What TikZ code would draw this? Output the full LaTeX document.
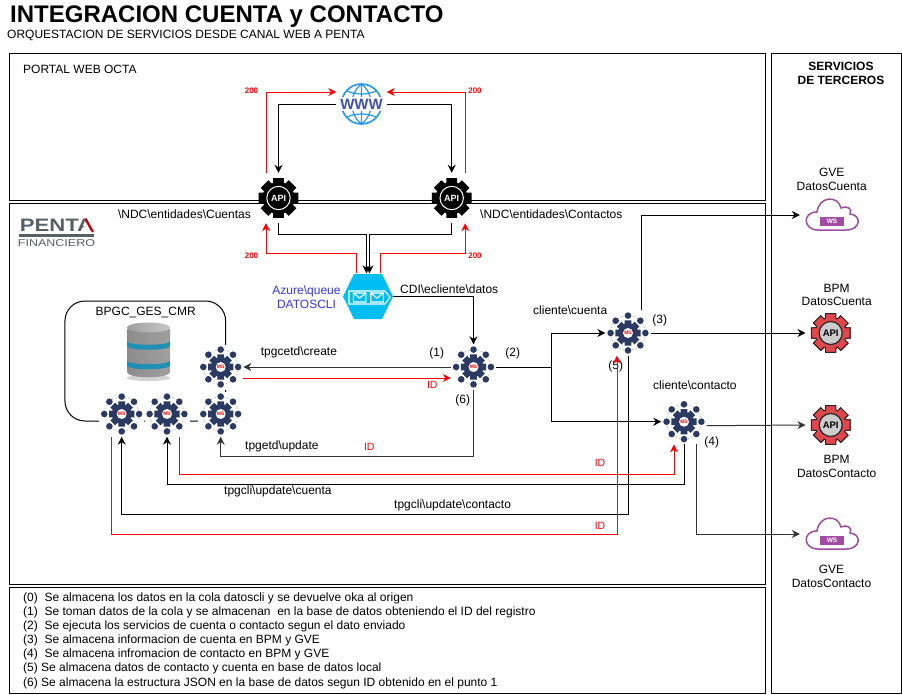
\documentclass[tikz,border=0pt]{standalone}
\usepackage{fontspec}
\setmainfont{Liberation Sans}
\usetikzlibrary{arrows.meta,shapes.geometric}

\definecolor{msnavy}{HTML}{2B3A63}
\definecolor{apired}{HTML}{E0474C}
\definecolor{wspurple}{HTML}{A24BA3}
\definecolor{wwwblue}{HTML}{2196F3}
\definecolor{wwwnavy}{HTML}{3F51B5}
\definecolor{queuecyan}{HTML}{00BEF2}
\definecolor{logogray}{HTML}{566068}
\definecolor{darkline}{HTML}{333333}
\definecolor{labelblue}{HTML}{3333FF}
\definecolor{dbteal}{HTML}{1F8FB5}
\definecolor{dbcyan}{HTML}{7FDDF2}

\newcommand{\gearpath}[2]{(-15:#1) foreach \a in {0,45,...,315} { -- (\a-15:#1) -- (\a+15:#1) -- (\a+20:#2) -- (\a+25:#2) } -- cycle}
\newcommand{\bs}{\textbackslash{}}

\tikzset{
  txt/.style={font=\fontsize{12}{14}\selectfont,inner sep=0pt},
  txtred/.style={txt,text=red,font=\fontsize{10.5}{12}\selectfont},
  code200/.style={inner sep=0pt,text=red,font=\fontsize{8}{10}\selectfont\bfseries},
  zone/.style={draw,line width=1pt},
  flow/.style={line width=1pt,-{Stealth[length=8pt,width=8pt]}},
  flowdark/.style={flow,draw=darkline},
  flowred/.style={flow,draw=red},
  msbox/.style={minimum size=45pt,inner sep=0pt,fill=white},
  apibox/.style={minimum size=50pt,inner sep=0pt},
  wsbox/.style={minimum width=64pt,minimum height=40pt,inner sep=0pt},
  msgear/.pic={
    \draw[msnavy!60,line width=.5pt,densely dotted] (0,0) circle (17.4);
    \foreach \t in {0,45,...,315} { \fill[msnavy] (\t:17.4) circle (3.3); }
    \fill[msnavy] \gearpath{13}{9.8};
    \fill[white] (0,0) circle (5);
    \node[inner sep=0pt,text=red,font=\fontsize{5}{5}\selectfont\bfseries] (-ms) at (0,0) {MS};
  },
  blackgear/.pic={
    \fill[black] \gearpath{20.5}{16};
    \draw[white,line width=1pt] (0,0) circle (11.7);
    \node[inner sep=0pt,text=white,font=\fontsize{9}{9}\selectfont\bfseries] (-api) at (0,0) {API};
  },
  redgear/.pic={
    \draw[apired,line width=0pt,fill=apired] \gearpath{20}{15.5};
    \draw[black!85,line width=1pt] \gearpath{20}{15.5};
    \draw[black!85,fill=black!20,line width=1.2pt] (0,0) circle (11.5);
    \node[inner sep=0pt,text=black,font=\fontsize{9.5}{9}\selectfont\bfseries] (-api) at (0,0) {API};
  },
  wscloud/.pic={
    \draw[wspurple,line width=1.5pt,fill=white] (-14,15) .. controls (-29,15) and (-30,-3) .. (-15,-3)
      .. controls (-13,-19) and (6,-20) .. (9,-7)
      .. controls (15,-10) and (21,-6) .. (18,-1)
      .. controls (30,0) and (29,15) .. (14,15) -- cycle;
    \fill[wspurple] (-12,2) rectangle (12,10.5);
    \node[inner sep=0pt,text=white,font=\fontsize{6.5}{7}\selectfont\bfseries] (-ws) at (0,6.3) {WS};
  },
  globe/.pic={
    \draw[wwwblue,line width=1.6pt] (0,0) circle (20);
    \draw[wwwblue,line width=1.2pt] (0,-20) .. controls (-13,-10) and (-13,10) .. (0,20)
      .. controls (13,10) and (13,-10) .. (0,-20) (0,-20) -- (0,20)
      (-14.5,-13) .. controls (-6,-9) and (6,-9) .. (14.5,-13)
      (-14.5,13) .. controls (-6,9) and (6,9) .. (14.5,13);
    \fill[white] (-21,-7) rectangle (21,7);
    \node[inner sep=0pt,text=wwwnavy,font=\fontsize{15}{15}\selectfont\bfseries] (-www) at (0,0) {WWW};
  },
  queueicon/.pic={
    \fill[queuecyan] (-25,0) -- (-14,-22.5) -- (14,-22.5) -- (25,0) -- (14,22.5) -- (-14,22.5) -- cycle;
    \draw[white,line width=1.1pt] (-19,-5.5) -- (17,-5.5) -- (22,1) -- (17,7.5) -- (-19,7.5) -- cycle;
    \foreach \e in {-14.7,2.7} {
      \draw[white,line width=1.1pt] (\e,-3.5) rectangle ++(12.6,9) (\e,-3.5) -- ++(6.3,5) -- ++(6.3,-5);
    }
  },
  dbicon/.pic={
    \fill[gray!35] (0,28) ellipse [x radius=22,y radius=3];
    \shade[left color=gray!90,middle color=gray!8,right color=gray!75] (-21.5,-21) -- (-21.5,22)
      .. controls (-21.5,29) and (21.5,29) .. (21.5,22) -- (21.5,-21) -- cycle;
    \foreach \b in {-9,10.5} {
      \shade[left color=dbteal,middle color=dbcyan,right color=dbteal] (-21.5,\b) .. controls (-21.5,\b+5) and (21.5,\b+5) .. (21.5,\b)
        -- (21.5,\b+5) .. controls (21.5,\b+10) and (-21.5,\b+10) .. (-21.5,\b+5) -- cycle;
    }
    \shade[left color=gray!75,right color=gray!45] (0,-22.5) ellipse [x radius=21.5,y radius=5];
  },
}

\begin{document}
\begin{tikzpicture}[x=1pt,y=-1pt]
  \useasboundingbox (0,0) rectangle (902,694);

  % title
  \node[anchor=west,inner sep=0pt,font=\fontsize{24}{28}\selectfont\bfseries] (title) at (10,17) {INTEGRACION CUENTA y CONTACTO};
  \node[txt,anchor=west] (subtitle) at (7,35) {ORQUESTACION DE SERVICIOS DESDE CANAL WEB A PENTA};

  % zones
  \draw[zone] (9,53) rectangle (765.5,200.5);
  \draw[zone] (9,203.5) rectangle (765.5,584.5);
  \draw[zone] (9,587) rectangle (765.5,693);
  \draw[zone] (771.5,53) rectangle (901,693);
  \node[txt,anchor=west] (portal) at (23,69.5) {PORTAL WEB OCTA};
  \node[txt,align=center,font=\fontsize{12}{14}\selectfont\bfseries] (terceros) at (841,73.7) {SERVICIOS\\DE TERCEROS};

  % logo
  \node[inner sep=0pt,text=logogray,font=\fontsize{18}{18}\selectfont\bfseries] (logo) at (56.5,225.2) {\scalebox{1.23}[1]{PENTA}};
  \fill[white] (86,222) -- (91.5,232.5) -- (80.5,232.5) -- cycle;
  \draw[red!80!black,line width=2.2pt] (85.5,218.7) -- (93,232);
  \fill[logogray] (19,233.5) rectangle (94,236.5);
  \node[inner sep=0pt,text=logogray,font=\fontsize{10}{10}\selectfont] (logosub) at (56.5,243.5) {\scalebox{1.25}[1]{FINANCIERO}};

  % base de datos
  \node[draw,line width=1pt,rounded corners=20pt,minimum width=160.7pt,minimum height=120pt] (dbzone) at (145.3,361) {};
  \node[txt] (dbname) at (145.7,312.7) {BPGC\_GES\_CMR};
  \pic at (148.5,350) {dbicon};

  % icons
  \node[apibox] (www) at (361.5,104) {};
  \pic at (www) {globe};
  \foreach \n/\x in {gwl/278.5,gwr/451.7} {
    \node[apibox] (\n) at (\x,198) {};
    \pic at (\n) {blackgear};
  }
  \node[minimum width=50pt,minimum height=46pt,inner sep=0pt] (queue) at (368,296.5) {};
  \pic at (queue) {queueicon};
  \foreach \n/\x/\y in {msd/220.7/367,msa/121.7/414,msb/167/414,msc/220.7/414,ms1/473.5/367,mscu/628/333,msct/684/421.7} {
    \node[msbox] (\n) at (\x,\y) {};
    \pic at (\n) {msgear};
  }
  \foreach \n/\y in {bpmcu/333,bpmct/425} {
    \node[apibox] (\n) at (830.7,\y) {};
    \pic at (\n) {redgear};
  }
  \foreach \n/\y in {gvecu/215,gvect/534} {
    \node[wsbox] (\n) at (832,\y) {};
    \pic at (\n) {wscloud};
  }

  % labels
  \node[txt,anchor=east] (lblcu) at (251,214.5) {\bs NDC\bs entidades\bs Cuentas};
  \node[txt,anchor=west] (lblct) at (480,214.5) {\bs NDC\bs entidades\bs Contactos};
  \node[txt,text=labelblue,align=center] (lblq) at (306.5,297.5) {Azure\bs queue\\DATOSCLI};
  \node[txt,anchor=west] (lblcdi) at (400,289.5) {CDI\bs ecliente\bs datos};
  \node[txt,anchor=west] (lblcta) at (533,310) {cliente\bs cuenta};
  \node[txt,anchor=west] (lblcto) at (653,385.7) {cliente\bs contacto};
  \node[txt,anchor=west] (lblcre) at (260.7,352.7) {tpgcetd\bs create};
  \node[txt,anchor=west] (lblupd) at (245,446.7) {tpgetd\bs update};
  \node[txt,anchor=west] (lblupa) at (224,491.7) {tpgcli\bs update\bs cuenta};
  \node[txt,anchor=west] (lblupb) at (394,505) {tpgcli\bs update\bs contacto};
  \foreach \n/\t/\x/\y in {st1/(1)/436.7/353.5,st2/(2)/512.7/353.5,st3/(3)/659.7/320,st4/(4)/711.7/442.7,st5/(5)/615.7/366,st6/(6)/462.7/400} {
    \node[txt] (\n) at (\x,\y) {\t};
  }
  \foreach \n/\x/\y in {oka/251.5/91,okb/251.5/256,okc/475/91,okd/475/256} {
    \node[code200] (\n) at (\x,\y) {200};
  }
  \foreach \n/\x/\y in {ida/432.3/384.7,idb/369.3/447.3,idc/600/462.5,idd/600/525.5} {
    \node[txtred] (\n) at (\x,\y) {ID};
  }
  \node[txt] (gvea) at (831.7,172.7) {GVE};
  \node[txt] (gveb) at (831.7,186.7) {DatosCuenta};
  \node[txt] (bpma) at (836.7,288) {BPM};
  \node[txt] (bpmb) at (836.7,301.7) {DatosCuenta};
  \node[txt] (bpmc) at (836.7,459.7) {BPM};
  \node[txt] (bpmd) at (836.7,473.7) {DatosContacto};
  \node[txt] (gvec) at (831.5,569) {GVE};
  \node[txt] (gved) at (831.5,583) {DatosContacto};

  % web - api
  \draw[flow] (www.west) -| (gwl.north);
  \draw[flow] (www.east) -| (gwr.north);
  \draw[flowred] ([xshift=-12.5pt]gwl.north) |- ([yshift=12pt]www.west);
  \draw[flowred] ([xshift=13.5pt]gwr.north) |- ([yshift=12pt]www.east);

  % api - cola
  \draw[flow] (gwl.south) -- ++(0,11) -| ([xshift=-1.5pt]queue.north);
  \draw[flow] (gwr.south) -- ++(0,11) -| ([xshift=1.5pt]queue.north);
  \draw[flowred] ([xshift=-12pt]queue.north) -- ++(0,-19.5) -| ([xshift=-12.5pt]gwl.south);
  \draw[flowred] ([xshift=12pt]queue.north) -- ++(0,-19.5) -| ([xshift=13.5pt]gwr.south);
  \draw[flow] (queue.east) -| (ms1.north);

  % ms principal
  \draw[flowdark] (ms1.west) -- (msd.east);
  \draw[flowred] ([yshift=-11pt]msd.east) -- ([yshift=-11pt]ms1.west);
  \draw[flowdark] (ms1.south) -- ++(0,67.2) -| (msc.south);
  \coordinate (branch) at (551.5,367);
  \draw[flow] (ms1.east) -- (branch) |- (mscu.west);
  \draw[flow] (branch) |- (msct.west);

  % ms cuenta
  \draw[flow] ([xshift=13pt]mscu.north) |- (gvecu.west);
  \draw[flow] (mscu.east) -- (bpmcu.west);
  \draw[flow] (mscu.south) -- ++(0,158.5) -| (msa.south);
  \draw[flowred] ([xshift=-10.7pt]msa.south) -- ++(0,97.5) -| ([xshift=-11pt]mscu.south);

  % ms contacto
  \draw[flowdark] ([yshift=-4pt]msct.east) -- (bpmct.west);
  \draw[flowdark] ([xshift=12.7pt]msct.south) |- (gvect.west);
  \draw[flow] (msct.south) -- ++(0,40) -| (msb.south);
  \draw[flowred] ([xshift=12.3pt]msb.south) -- ++(0,37.5) -| ([xshift=-10pt]msct.south);

  % notas
  \node[txt,anchor=north west,align=left,font=\fontsize{12}{14.1}\selectfont] (notes) at (23,592.5) {%
    (0)~ Se almacena los datos en la cola datoscli y se devuelve oka al origen\\
    (1)~ Se toman datos de la cola y se almacenan~ en la base de datos obteniendo el ID del registro\\
    (2)~ Se ejecuta los servicios de cuenta o contacto segun el dato enviado\\
    (3)~ Se almacena informacion de cuenta en BPM y GVE\\
    (4)~ Se almacena infromacion de contacto en BPM y GVE\\
    (5) Se almacena datos de contacto y cuenta en base de datos local\\
    (6) Se almacena la estructura JSON en la base de datos segun ID obtenido en el punto 1};
\end{tikzpicture}
\end{document}
